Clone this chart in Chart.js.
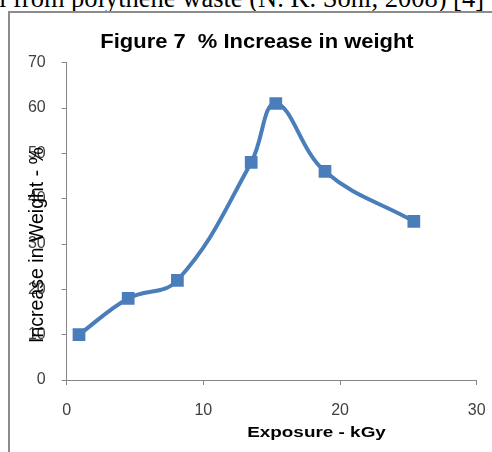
<!DOCTYPE html>
<html>
<head>
<meta charset="utf-8">
<script src="https://cdn.jsdelivr.net/npm/chart.js@4"></script>
<style>
  html, body { margin: 0; padding: 0; background: #fff; overflow: hidden; }
  #wrap { position: relative; width: 492px; height: 452px; overflow: hidden; }
  #caption {
    position: absolute; left: -1px; top: -15px; white-space: nowrap;
    font: 26.5px/1 "Liberation Serif", "DejaVu Serif", serif; color: #000;
  }
  #frame {
    position: absolute; left: 8px; top: 11px; width: 600px; height: 600px;
    border-left: 2px solid #8c8c8c; border-top: 2px solid #8c8c8c;
  }
  #chart { position: absolute; left: 0; top: 0; }
</style>
</head>
<body>
<div id="wrap">
  <div id="caption">l from polythene waste (N. K. Soni, 2008) [4]</div>
  <div id="frame"></div>
  <canvas id="chart" width="492" height="452"></canvas>
</div>
<script>
const exposure = [0.9, 4.5, 8.1, 13.5, 15.3, 18.9, 25.4];
const weightIncrease = [10, 18, 22, 48, 61, 46, 35];
const xTicks = [0, 10, 20, 30];
const yTicks = [0, 10, 20, 30, 40, 50, 60, 70];

const chartTitle = 'Figure 7  % Increase in weight';
const xTitle = 'Exposure - kGy';
const yTitle = 'Increase in Weight - %';

const axisGrey = '#868686';
const seriesBlue = '#4A7EBB';
const fontFamily = '"Liberation Sans", Arial, sans-serif';

// the original picture is stretched sideways, so text gets an x scale
function stretchedText(ctx, text, x, y, font, sx, angle) {
    ctx.save();
    ctx.translate(x, y);
    if (angle) ctx.rotate(angle);
    ctx.scale(sx, 1);
    ctx.font = font;
    ctx.fillText(text, 0, 0);
    ctx.restore();
}

// titles sit off-centre in the original, so they are drawn by hand
const textPlugin = {
    id: 'textPlugin',
    afterDraw(chart) {
        const ctx = chart.ctx;
        ctx.save();
        ctx.fillStyle = '#000';
        ctx.textAlign = 'center';
        ctx.textBaseline = 'alphabetic';
        stretchedText(ctx, chartTitle, 257, 48, 'bold 20.5px ' + fontFamily, 1.07, 0);
        stretchedText(ctx, xTitle, 316.5, 437, 'bold 15.5px ' + fontFamily, 1.22, 0);
        ctx.textBaseline = 'middle';
        stretchedText(ctx, yTitle, 38, 245, '19.5px ' + fontFamily, 1, -Math.PI / 2);
        ctx.restore();
    }
};

document.addEventListener('DOMContentLoaded', function () {
    new Chart(document.getElementById('chart'), {
        type: 'line',
        data: {
            datasets: [{
                data: exposure.map((x, i) => ({ x: x, y: weightIncrease[i] })),
                borderColor: seriesBlue,
                backgroundColor: seriesBlue,
                borderWidth: 4,
                pointStyle: 'rect',
                pointRadius: 9,
                pointHoverRadius: 9,
                pointBorderWidth: 0,
                tension: 0.4,
                fill: false
            }]
        },
        options: {
            responsive: false,
            animation: false,
            layout: { padding: { left: 0, right: 15.3, top: 62.7, bottom: 0 } },
            plugins: {
                legend: { display: false },
                tooltip: { enabled: false },
                title: { display: false }
            },
            scales: {
                x: {
                    type: 'linear',
                    min: 0,
                    max: 30,
                    afterFit: s => { s.height = 72; s.paddingLeft = 0; s.paddingRight = 0; },
                    afterBuildTicks: s => { s.ticks = xTicks.map(v => ({ value: v })); },
                    grid: { drawOnChartArea: false, drawTicks: true, tickLength: 5, color: axisGrey },
                    border: { display: true, color: axisGrey, width: 1 },
                    ticks: {
                        padding: 16,
                        color: '#404040',
                        font: { family: fontFamily, size: 16 },
                        maxRotation: 0
                    }
                },
                y: {
                    min: 0,
                    max: 70,
                    afterFit: s => { s.width = 66.7; s.paddingTop = 0; s.paddingBottom = 0; },
                    afterBuildTicks: s => { s.ticks = yTicks.map(v => ({ value: v })); },
                    grid: { drawOnChartArea: false, drawTicks: true, tickLength: 5, color: axisGrey },
                    border: { display: true, color: axisGrey, width: 1 },
                    ticks: {
                        padding: 16,
                        color: '#404040',
                        font: { family: fontFamily, size: 16 }
                    }
                }
            }
        },
        plugins: [textPlugin]
    });
});
</script>
</body>
</html>
